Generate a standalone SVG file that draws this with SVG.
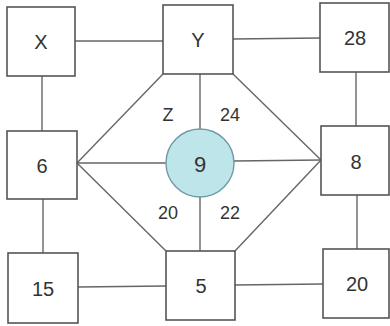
<svg xmlns="http://www.w3.org/2000/svg" width="390" height="326" viewBox="0 0 390 326">
<style>
.box{fill:#fff;stroke:#555;stroke-width:1.6}
.ln{stroke:#666;stroke-width:1.4;fill:none}
.t{font-family:"Liberation Sans",Arial,sans-serif;font-size:20px;fill:#333;text-anchor:middle;dominant-baseline:central}
.l{font-family:"Liberation Sans",Arial,sans-serif;font-size:18px;fill:#333;text-anchor:middle;dominant-baseline:central}
</style>
<rect width="390" height="326" fill="#fff"/>
<g id="connectors">
<line class="ln" x1="75" y1="41" x2="163" y2="41"/>
<line class="ln" x1="233" y1="39" x2="320" y2="38"/>
<line class="ln" x1="42" y1="76" x2="42" y2="131"/>
<line class="ln" x1="43" y1="199" x2="43" y2="253"/>
<line class="ln" x1="356" y1="72" x2="356" y2="126"/>
<line class="ln" x1="357" y1="195" x2="357" y2="249"/>
<line class="ln" x1="78" y1="287" x2="166" y2="286"/>
<line class="ln" x1="235" y1="285" x2="323" y2="284"/>
<line class="ln" x1="163" y1="74" x2="77" y2="163"/>
<line class="ln" x1="233" y1="74" x2="321" y2="160"/>
<line class="ln" x1="77" y1="163" x2="166" y2="251"/>
<line class="ln" x1="321" y1="160" x2="235" y2="251"/>
<line class="ln" x1="200" y1="74" x2="200" y2="129"/>
<line class="ln" x1="200" y1="197" x2="200" y2="251"/>
<line class="ln" x1="77" y1="163" x2="166" y2="163"/>
<line class="ln" x1="234" y1="161" x2="321" y2="160"/>
</g>
<g id="labels">
<text class="l" x="168" y="115">Z</text>
<text class="l" x="230" y="115">24</text>
<text class="l" x="168" y="213">20</text>
<text class="l" x="230" y="213">22</text>
</g>
<g id="node-X"><rect class="box" x="7" y="7" width="68" height="69"/><text class="t" x="41" y="42">X</text></g>
<g id="node-Y"><rect class="box" x="163" y="5" width="70" height="69"/><text class="t" x="198" y="40">Y</text></g>
<g id="node-28"><rect class="box" x="320" y="3" width="69" height="69"/><text class="t" x="355" y="38">28</text></g>
<g id="node-6"><rect class="box" x="7" y="131" width="70" height="68"/><text class="t" x="42" y="166">6</text></g>
<g id="node-9"><circle cx="200" cy="163" r="34" fill="#bde5ea" stroke="#6f9aa3" stroke-width="1.4"/><text class="t" x="200" y="164" font-size="22" style="font-size:22px">9</text></g>
<g id="node-8"><rect class="box" x="321" y="126" width="68" height="69"/><text class="t" x="356" y="162">8</text></g>
<g id="node-15"><rect class="box" x="8" y="253" width="70" height="70"/><text class="t" x="43" y="289">15</text></g>
<g id="node-5"><rect class="box" x="166" y="251" width="69" height="69"/><text class="t" x="201" y="286">5</text></g>
<g id="node-20"><rect class="box" x="323" y="249" width="66" height="69"/><text class="t" x="357" y="284">20</text></g>
</svg>
